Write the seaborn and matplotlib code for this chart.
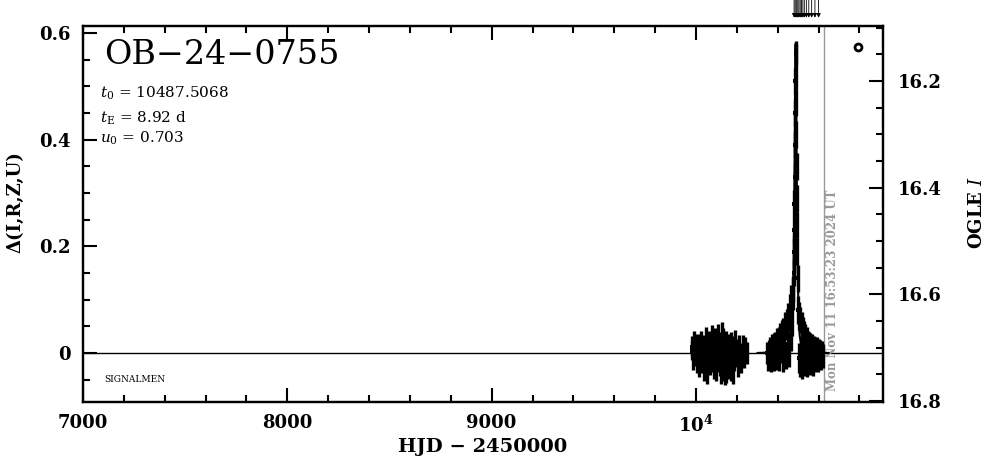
import matplotlib
matplotlib.use("Agg")
import matplotlib.pyplot as plt
import seaborn as sns
import pandas as pd
from matplotlib.ticker import MultipleLocator, FixedLocator

# datos (HJD - 2450000, Delta, error)
s1_hjd = [9978, 9982, 9986, 9990, 9994, 9998, 10002, 10005, 10008, 10011,
          10014, 10017, 10020, 10023, 10026, 10029, 10032, 10035, 10038, 10041,
          10044, 10047, 10050, 10053, 10056, 10059, 10062, 10065, 10068, 10071,
          10074, 10077, 10080, 10083, 10086, 10089, 10092, 10095, 10098, 10101,
          10104, 10107, 10110, 10113, 10116, 10119, 10122, 10125, 10128, 10131,
          10134, 10137, 10140, 10143, 10146, 10149, 10152, 10155, 10158, 10161,
          10164, 10167, 10170, 10173, 10176, 10179, 10182, 10185, 10188, 10192,
          10196, 10200, 10205, 10210, 10216, 10222, 10228, 10235, 10242, 10250]
s1_delta = [0.012, 0.004, -0.010, 0.018, 0.002, -0.006, 0.010, -0.015, 0.006, -0.002,
            0.014, -0.020, 0.003, -0.008, 0.020, -0.012, 0.000, 0.008, -0.025, 0.012,
            -0.004, 0.022, -0.016, 0.005, -0.030, 0.010, -0.006, 0.016, -0.020, 0.002,
            -0.010, 0.025, -0.014, 0.004, -0.022, 0.012, -0.002, 0.018, -0.026, 0.006,
            -0.012, 0.028, -0.008, 0.000, -0.018, 0.015, -0.030, 0.030, -0.004, 0.020,
            -0.024, 0.010, -0.030, 0.004, -0.028, 0.016, -0.006, 0.000, -0.020, 0.012,
            -0.010, 0.006, -0.024, 0.014, -0.016, 0.002, -0.030, 0.008, -0.012, 0.018,
            -0.006, 0.004, -0.020, 0.010, -0.002, -0.014, 0.012, -0.008, 0.006, 0.000]
s1_err = [0.020, 0.018, 0.022, 0.024, 0.020, 0.018, 0.026, 0.022, 0.020, 0.024,
          0.022, 0.026, 0.020, 0.024, 0.022, 0.026, 0.018, 0.024, 0.028, 0.022,
          0.020, 0.026, 0.024, 0.022, 0.028, 0.020, 0.024, 0.026, 0.022, 0.020,
          0.024, 0.028, 0.022, 0.020, 0.026, 0.024, 0.022, 0.028, 0.026, 0.020,
          0.024, 0.026, 0.022, 0.020, 0.026, 0.024, 0.028, 0.028, 0.022, 0.026,
          0.028, 0.024, 0.030, 0.022, 0.028, 0.026, 0.022, 0.020, 0.028, 0.024,
          0.022, 0.020, 0.028, 0.026, 0.024, 0.022, 0.028, 0.024, 0.022, 0.026,
          0.020, 0.022, 0.026, 0.024, 0.020, 0.024, 0.022, 0.020, 0.024, 0.020]

s2_hjd = [10348, 10352, 10356, 10360, 10364, 10368, 10372, 10376, 10380, 10384,
          10388, 10392, 10396, 10400, 10404, 10408, 10412, 10416, 10420, 10424,
          10428, 10432, 10436, 10440, 10444, 10448, 10452, 10456, 10460, 10464,
          10467, 10470, 10473, 10476, 10478, 10480, 10481, 10482, 10483, 10484,
          10485, 10486, 10487, 10488, 10489, 10490, 10491, 10492, 10493, 10494,
          10495, 10497, 10500, 10502, 10505, 10508, 10511, 10514, 10517, 10520,
          10523, 10526, 10529, 10532, 10535, 10538, 10541, 10544, 10547, 10550,
          10553, 10556, 10560, 10564, 10568, 10572, 10576, 10580, 10584, 10588,
          10592, 10596, 10600, 10604, 10608, 10612, 10616, 10620]
s2_delta = [0.000, -0.012, 0.006, -0.008, 0.010, -0.014, 0.012, -0.004, 0.016, -0.010,
            0.020, -0.006, 0.024, 0.002, 0.028, -0.008, 0.032, 0.004, 0.038, -0.010,
            0.044, 0.010, 0.050, -0.006, 0.058, 0.016, 0.068, 0.002, 0.082, 0.030,
            0.098, 0.060, 0.110, 0.120, 0.150, 0.190, 0.230, 0.280, 0.330, 0.390,
            0.450, 0.510, 0.560, 0.565, 0.520, 0.470, 0.410, 0.350, 0.290, 0.240,
            0.190, 0.140, 0.080, -0.010, 0.070, -0.020, 0.062, 0.000, 0.050, -0.024,
            0.044, 0.006, 0.038, -0.018, 0.030, -0.008, 0.026, -0.022, 0.020, 0.002,
            0.018, -0.016, 0.014, -0.006, 0.012, -0.020, 0.010, -0.012, 0.008, -0.004,
            0.010, -0.014, 0.006, -0.008, 0.004, -0.010, 0.002, -0.006]
s2_err = [0.020, 0.022, 0.018, 0.024, 0.020, 0.022, 0.024, 0.020, 0.022, 0.024,
          0.020, 0.026, 0.022, 0.024, 0.020, 0.026, 0.024, 0.022, 0.024, 0.026,
          0.022, 0.024, 0.026, 0.024, 0.024, 0.026, 0.026, 0.028, 0.028, 0.026,
          0.030, 0.028, 0.030, 0.025, 0.025, 0.025, 0.025, 0.025, 0.025, 0.025,
          0.025, 0.025, 0.020, 0.020, 0.025, 0.025, 0.025, 0.025, 0.025, 0.025,
          0.025, 0.025, 0.026, 0.028, 0.026, 0.026, 0.024, 0.026, 0.026, 0.024,
          0.024, 0.026, 0.022, 0.026, 0.024, 0.024, 0.022, 0.024, 0.022, 0.024,
          0.022, 0.026, 0.024, 0.022, 0.024, 0.024, 0.022, 0.024, 0.022, 0.024,
          0.020, 0.022, 0.020, 0.022, 0.020, 0.022, 0.020, 0.022]

# curva del modelo (pico estrecho en t0)
model_hjd = [10300, 10437.5, 10457.5, 10467.5, 10472.5, 10477.5, 10480.5, 10482.5,
             10484.5, 10485.5, 10486.5, 10487.5, 10488.5, 10489.5, 10490.5, 10492.5,
             10494.5, 10497.5, 10502.5, 10507.5, 10517.5, 10537.5, 10650]
model_delta = [0.000, 0.002, 0.009, 0.032, 0.068, 0.157, 0.264, 0.366,
               0.482, 0.533, 0.568, 0.580, 0.568, 0.533, 0.482, 0.366,
               0.264, 0.157, 0.068, 0.032, 0.009, 0.002, 0.000]

arrow_hjd = [10480, 10485, 10490, 10494, 10499, 10504, 10510, 10516, 10523,
             10530, 10540, 10552, 10566, 10582, 10600]

date_hjd = 10626.2
ogle_sym = (10793, 0.574)

df1 = pd.DataFrame({"hjd": s1_hjd, "delta": s1_delta, "err": s1_err})
df2 = pd.DataFrame({"hjd": s2_hjd, "delta": s2_delta, "err": s2_err})
df = pd.concat([df1, df2], ignore_index=True)
df_model = pd.DataFrame({"hjd": model_hjd, "delta": model_delta})

sns.set_style("ticks")
plt.rcParams["font.family"] = ["DejaVu Serif"]
plt.rcParams["mathtext.fontset"] = "dejavuserif"
plt.rcParams["text.color"] = "black"
plt.rcParams["axes.labelcolor"] = "black"
plt.rcParams["xtick.color"] = "black"
plt.rcParams["ytick.color"] = "black"
plt.rcParams["axes.edgecolor"] = "black"

fig = plt.figure(figsize=(9.86, 4.59), dpi=100)
ax = fig.add_axes([0.0842, 0.1242, 0.8113, 0.8192])

ax.axhline(0, color="black", lw=1.0, zorder=1)
ax.axvline(date_hjd, color="#999999", lw=1.0, zorder=1)

ax.errorbar(df["hjd"], df["delta"], yerr=df["err"], fmt="none",
            ecolor="black", elinewidth=2.4, capsize=0, zorder=3)
sns.scatterplot(data=df, x="hjd", y="delta", ax=ax, marker="s", s=8,
                color="black", edgecolor="black", linewidth=0, zorder=4, legend=False)
sns.lineplot(data=df_model, x="hjd", y="delta", ax=ax, color="black", lw=1.5,
             zorder=5, legend=False)

ax.plot([ogle_sym[0]], [ogle_sym[1]], marker="o", ms=5, mfc="white", mec="black",
        mew=2, ls="none", zorder=6)

ax.set_xlim(7000, 10915)
ax.set_ylim(-0.092, 0.6135)

ax.xaxis.set_major_locator(FixedLocator([7000, 8000, 9000, 10000]))
ax.set_xticklabels(["7000", "8000", "9000", r"$\mathbf{10^4}$"])
ax.xaxis.set_minor_locator(MultipleLocator(200))
ax.yaxis.set_major_locator(FixedLocator([0, 0.2, 0.4, 0.6]))
ax.set_yticklabels(["0", "0.2", "0.4", "0.6"])
ax.yaxis.set_minor_locator(MultipleLocator(0.05))

for sp in ax.spines.values():
    sp.set_visible(True)
    sp.set_linewidth(1.6)
    sp.set_color("black")

ax.tick_params(axis="both", which="both", direction="in", color="black", width=1.5,
               top=True, right=False, labelcolor="black")
ax.tick_params(axis="both", which="major", length=10)
ax.tick_params(axis="both", which="minor", length=5)
ax.tick_params(axis="x", which="major", pad=9, labelsize=13)
ax.tick_params(axis="y", which="major", pad=9, labelsize=13)
for lab in ax.get_xticklabels() + ax.get_yticklabels():
    lab.set_fontweight("bold")

ax.set_ylabel("")
ax.set_xlabel("HJD \u2212 2450000", fontsize=14, fontweight="bold", labelpad=2,
              color="black")
fig.text(15 / 986, 1 - 202 / 459, "\u0394(I,R,Z,U)", rotation=90, fontsize=13,
         fontweight="bold", ha="center", va="center", color="black")

# eje derecho en magnitudes OGLE I
ax2 = ax.twinx()
ax2.set_ylim(16.710 + 0.092, 16.710 - 0.6135)
ax2.yaxis.set_major_locator(FixedLocator([16.2, 16.4, 16.6, 16.8]))
ax2.set_yticklabels(["16.2", "16.4", "16.6", "16.8"])
ax2.yaxis.set_minor_locator(MultipleLocator(0.05))
ax2.tick_params(axis="y", which="both", direction="in", width=1.5, color="black",
                left=False, right=True, labelcolor="black")
ax2.tick_params(axis="y", which="major", length=10, pad=11, labelsize=13)
ax2.tick_params(axis="y", which="minor", length=5)
for lab in ax2.get_yticklabels():
    lab.set_fontweight("bold")
for sp in ax2.spines.values():
    sp.set_linewidth(1.6)
    sp.set_color("black")
fig.text(977 / 986, 1 - 212 / 459, "OGLE $\\mathit{I}$", rotation=90, fontsize=13,
         fontweight="bold", ha="center", va="center", color="black")

# textos
ax.text(0.026, 0.923, "OB\u221224\u22120755", transform=ax.transAxes, fontsize=24,
        ha="left", va="center")
ax.text(0.021, 0.820, r"$t_0$ = 10487.5068", transform=ax.transAxes, fontsize=11,
        ha="left", va="center")
ax.text(0.021, 0.755, r"$t_\mathrm{E}$ = 8.92 d", transform=ax.transAxes, fontsize=11,
        ha="left", va="center")
ax.text(0.021, 0.700, r"$u_0$ = 0.703", transform=ax.transAxes, fontsize=11,
        ha="left", va="center")
ax.text(0.026, 0.0585, "SIGNALMEN", transform=ax.transAxes, fontsize=6.5,
        ha="left", va="center")
ax.text(date_hjd + 12, 0.03, "Mon Nov 11 16:53:23 2024 UT",
        transform=ax.get_xaxis_transform(), rotation=90, fontsize=8.5,
        fontweight="bold", color="#999999", ha="left", va="bottom")

# flechas arriba
for h in arrow_hjd:
    ax.annotate("", xy=(h, 1.022), xycoords=("data", "axes fraction"),
                xytext=(h, 1.075), textcoords=("data", "axes fraction"),
                arrowprops=dict(arrowstyle="-|>", lw=0.6, color="black",
                                mutation_scale=6, shrinkA=0, shrinkB=0),
                annotation_clip=False)

fig.savefig("out.png", dpi=100)
